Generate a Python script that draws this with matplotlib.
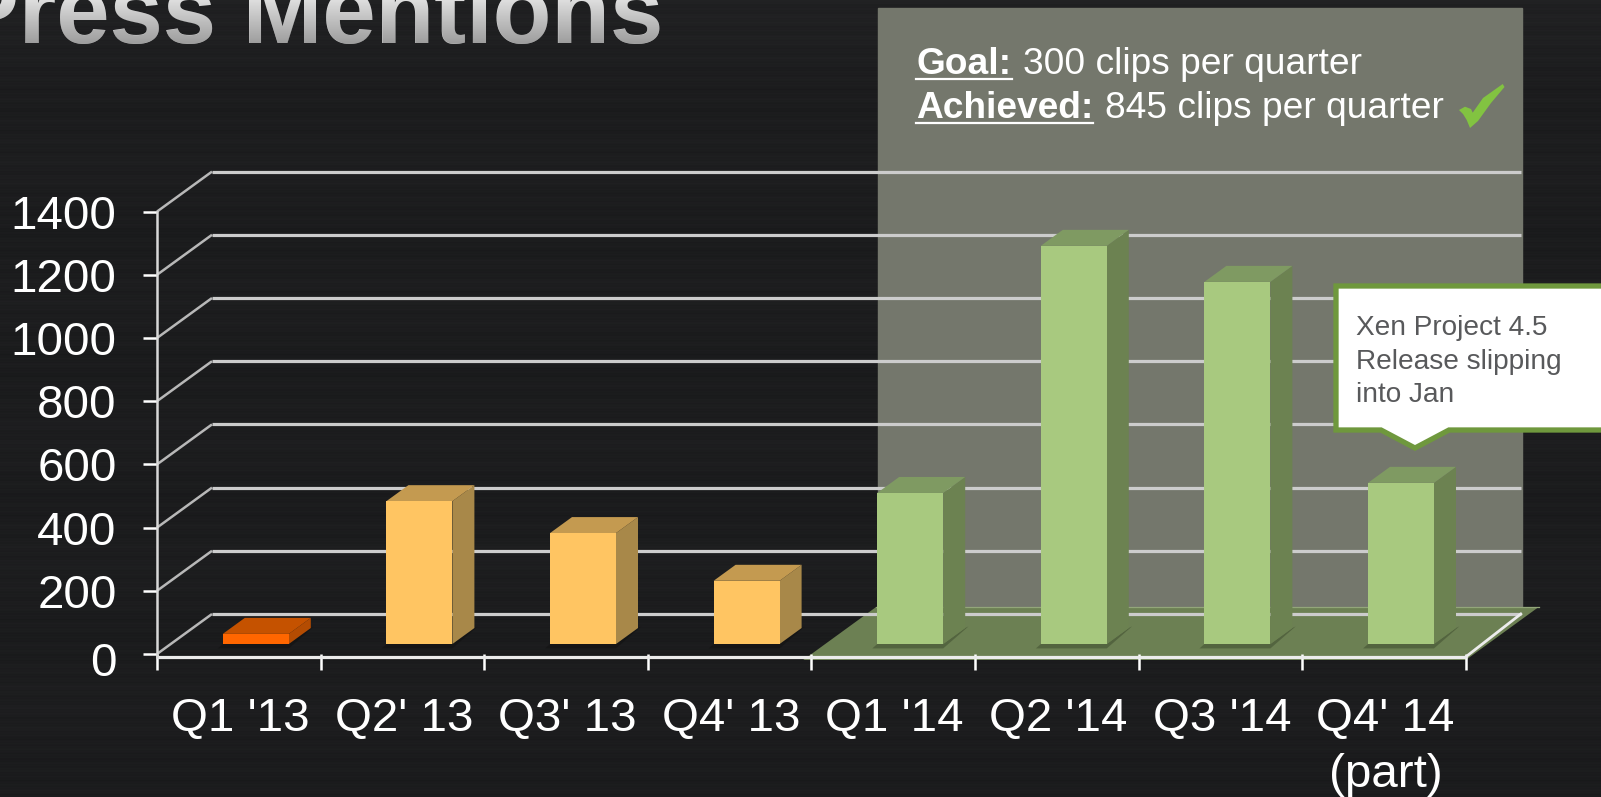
import numpy as np
import matplotlib
matplotlib.use('Agg')
import matplotlib.pyplot as plt
from matplotlib.patches import Polygon, Rectangle
from matplotlib.textpath import TextPath
from matplotlib.font_manager import FontProperties
from matplotlib.transforms import Affine2D

plt.rcParams['font.family'] = ['Liberation Sans', 'DejaVu Sans']

# data
categories = ["Q1 '13", "Q2' 13", "Q3' 13", "Q4' 13", "Q1 '14", "Q2 '14", "Q3 '14", "Q4' 14\n(part)"]
clips = [32, 452, 351, 200, 478, 1260, 1146, 510]
y_ticks = [0, 200, 400, 600, 800, 1000, 1200, 1400]
bar_styles = ['orange', 'yellow', 'yellow', 'yellow', 'green', 'green', 'green', 'green']

colors = {
    'orange': ('#ff6600', '#c55200', '#b44c02'),
    'yellow': ('#ffc562', '#c49a50', '#a88849'),
    'green': ('#a8c97f', '#7f9a62', '#6c8251'),
}

W, H = 1601, 797
cat_w = 163.6          # px per category
val_px = 63.2 / 200    # px per unit on the y axis
x0_px, y0_px = 157, 654

# depth of the fake 3d box, in axis units
depth_x = 55 / cat_w
depth_y = 40 / val_px
bar_w = 66 / cat_w


def proj(x, y, d):
    return x + d * depth_x, y + d * depth_y


fig = plt.figure(figsize=(W / 100, H / 100), dpi=100)

# background layer in pixel coordinates
bg = fig.add_axes([0, 0, 1, 1], zorder=0)
bg.axis('off')
rows = np.arange(H)
streaks = np.sin(rows * 0.9) + np.sin(rows * 2.3 + 1) + np.sin(rows * 0.31 + 2) + np.sin(rows * 0.047)
shade = 28 + streaks * 0.9 + 4 * np.exp(-rows / 60.0)
tex = np.stack([shade, shade + 0.5, shade + 2], axis=1)[:, None, :] / 255
bg.imshow(tex, extent=(0, W, H, 0), aspect='auto', interpolation='bilinear', zorder=0)

# title, real text with a white to grey fade laid over it
title_font = FontProperties(family='Liberation Sans', weight='bold', size=69)
bg.text(-45, 43, 'Press Mentions', fontproperties=title_font, color='#eeeeee', va='baseline', zorder=2)
title_path = TextPath((0, 0), 'Press Mentions', size=69 * 100 / 72, prop=title_font)
fade = np.zeros((60, 1, 4))
fade[:, 0, 3] = np.linspace(0, 0.52, 60)
fade[:, 0, :3] = 0.25
im = bg.imshow(fade, extent=(0, W, 50, -10), aspect='auto', zorder=3)
im.set_clip_path(title_path, Affine2D().scale(1, -1).translate(-45, 43) + bg.transData)
bg.set_xlim(0, W)
bg.set_ylim(H, 0)

# goal panel
bg.add_patch(Rectangle((878, 8), 644, 599, color='#74776c', zorder=1))

# chart layer, values in axis units
ax = fig.add_axes([0, 0, 1, 1], zorder=1)
ax.patch.set_alpha(0)
ax.set_xlim(-x0_px / cat_w, (W - x0_px) / cat_w)
ax.set_ylim(-(H - y0_px) / val_px, y0_px / val_px)
for s in ['top', 'right', 'bottom']:
    ax.spines[s].set_visible(False)
ax.spines['bottom'].set_position(('data', 0))
ax.spines['left'].set_position(('data', 0))
ax.spines['left'].set_bounds(-9, y_ticks[-1])
ax.spines['left'].set_color('#d8d8d8')
ax.spines['left'].set_linewidth(1.8)

n = len(categories)
ax.set_xticks(np.arange(n + 1))
ax.set_xticklabels([])
ax.set_xticks(np.arange(n) + 0.5, categories, minor=True)
ax.tick_params(axis='x', which='major', length=11.5, width=1.8, color='white')
ax.tick_params(axis='x', which='minor', length=0, pad=31, labelsize=34.2, labelcolor='white')
for lab in ax.get_xticklabels(minor=True):
    lab.set_linespacing(1.36)
    lab.set_transform(lab.get_transform() + Affine2D().translate(1.5, 0))
ax.set_yticks(y_ticks)
ax.tick_params(axis='y', length=10, width=1.8, color='white', pad=19, labelsize=34.2, labelcolor='white')
# the 0 label sits a bit lower than the others
zero_lab = ax.get_yticklabels()[0]
zero_lab.set_transform(zero_lab.get_transform() + Affine2D().translate(0, -5))

# green floor under the 2014 bars
floor_d = 53 / 40
floor = [proj(3.95, -19, 0), proj(n, -19, 0), proj(n, -19, floor_d), proj(3.95, -19, floor_d)]
ax.add_patch(Polygon(floor, closed=True, color='#6c8053', lw=0, zorder=1))
ax.plot([floor[3][0], floor[2][0]], [floor[3][1], floor[2][1]], color='#93a67a', lw=0.9, zorder=1.5)

# grid walls
for v in y_ticks:
    bx, by = proj(0, v, 1)
    ax.plot([0, bx], [v, by], color='#b8b8b8', lw=1.8, zorder=2, solid_capstyle='butt')
    ax.plot([bx, proj(n, v, 1)[0]], [by, by], color='#cccccc', lw=2.3, zorder=2, solid_capstyle='butt')
ax.plot([0, n], [-9, -9], color='#ececec', lw=2.3, zorder=2, solid_capstyle='butt')
ax.plot([n, proj(n, -9, 1)[0]], [-9, proj(n, 0, 1)[1]], color='#ececec', lw=2.0, zorder=2)

# bars as boxes
base_d = 0.25
box_d = 0.4
for i, (val, st) in enumerate(zip(clips, bar_styles)):
    front, top, side = colors[st]
    left = i + (cat_w / 2 + 17 - 33) / cat_w - base_d * depth_x
    x_l, y_b = proj(left, 0, base_d)
    x_r = x_l + bar_w
    y_t = y_b + val
    dx, dy = box_d * depth_x, box_d * depth_y
    # shadow
    shadow = '#3c4a2c' if st == 'green' else '#101010'
    ax.add_patch(Polygon([(x_l - 0.03, y_b - 14), (x_r, y_b - 14), (x_r + dx * 1.15, y_b + dy * 1.1),
                          (x_r + dx, y_b + dy), (x_r, y_b), (x_l, y_b)],
                         closed=True, color=shadow, alpha=0.5, lw=0, zorder=3))
    ax.add_patch(Polygon([(x_r, y_b), (x_r + dx, y_b + dy), (x_r + dx, y_t + dy), (x_r, y_t)],
                         closed=True, color=side, lw=0, zorder=4))
    ax.add_patch(Polygon([(x_l, y_t), (x_r, y_t), (x_r + dx, y_t + dy), (x_l + dx, y_t + dy)],
                         closed=True, color=top, lw=0, zorder=4))
    ax.bar(x_l, val, width=bar_w, bottom=y_b, align='edge', color=front, lw=0, zorder=5)

# overlay layer, callout and goal text in pixels
ov = fig.add_axes([0, 0, 1, 1], zorder=2)
ov.set_xlim(0, W)
ov.set_ylim(H, 0)
ov.axis('off')

callout = [(1336, 286), (1610, 286), (1610, 430), (1449, 430), (1415, 448), (1381, 430), (1336, 430)]
ov.add_patch(Polygon(callout, closed=True, facecolor='white', edgecolor='#6f983d', lw=3.8, joinstyle='miter'))
for txt, yy in zip(['Xen Project 4.5', 'Release slipping', 'into Jan'], [335, 369, 402]):
    ov.text(1356, yy, txt, fontsize=20.2, color='#58595b', va='baseline')

ov.text(916, 74, 'Goal:', fontsize=26.7, fontweight='bold', color='white', va='baseline')
ov.text(1023, 74, '300 clips per quarter', fontsize=26.7, color='white', va='baseline')
ov.text(916, 118, 'Achieved:', fontsize=26.7, fontweight='bold', color='white', va='baseline')
ov.text(1105, 118, '845 clips per quarter', fontsize=26.7, color='white', va='baseline')
ov.plot([916, 1012], [79, 79], color='white', lw=1.6)
ov.plot([916, 1093], [123, 123], color='white', lw=1.6)

check = [(1459, 110), (1465, 106.7), (1471, 109), (1472.7, 112.7), (1483, 98), (1502.7, 84), (1504.5, 87),
         (1491, 103), (1478, 121), (1470, 128), (1466.7, 120), (1463, 114)]
ov.add_patch(Polygon(check, closed=True, color='#82c341', lw=0))

fig.savefig('out.png', dpi=100)
